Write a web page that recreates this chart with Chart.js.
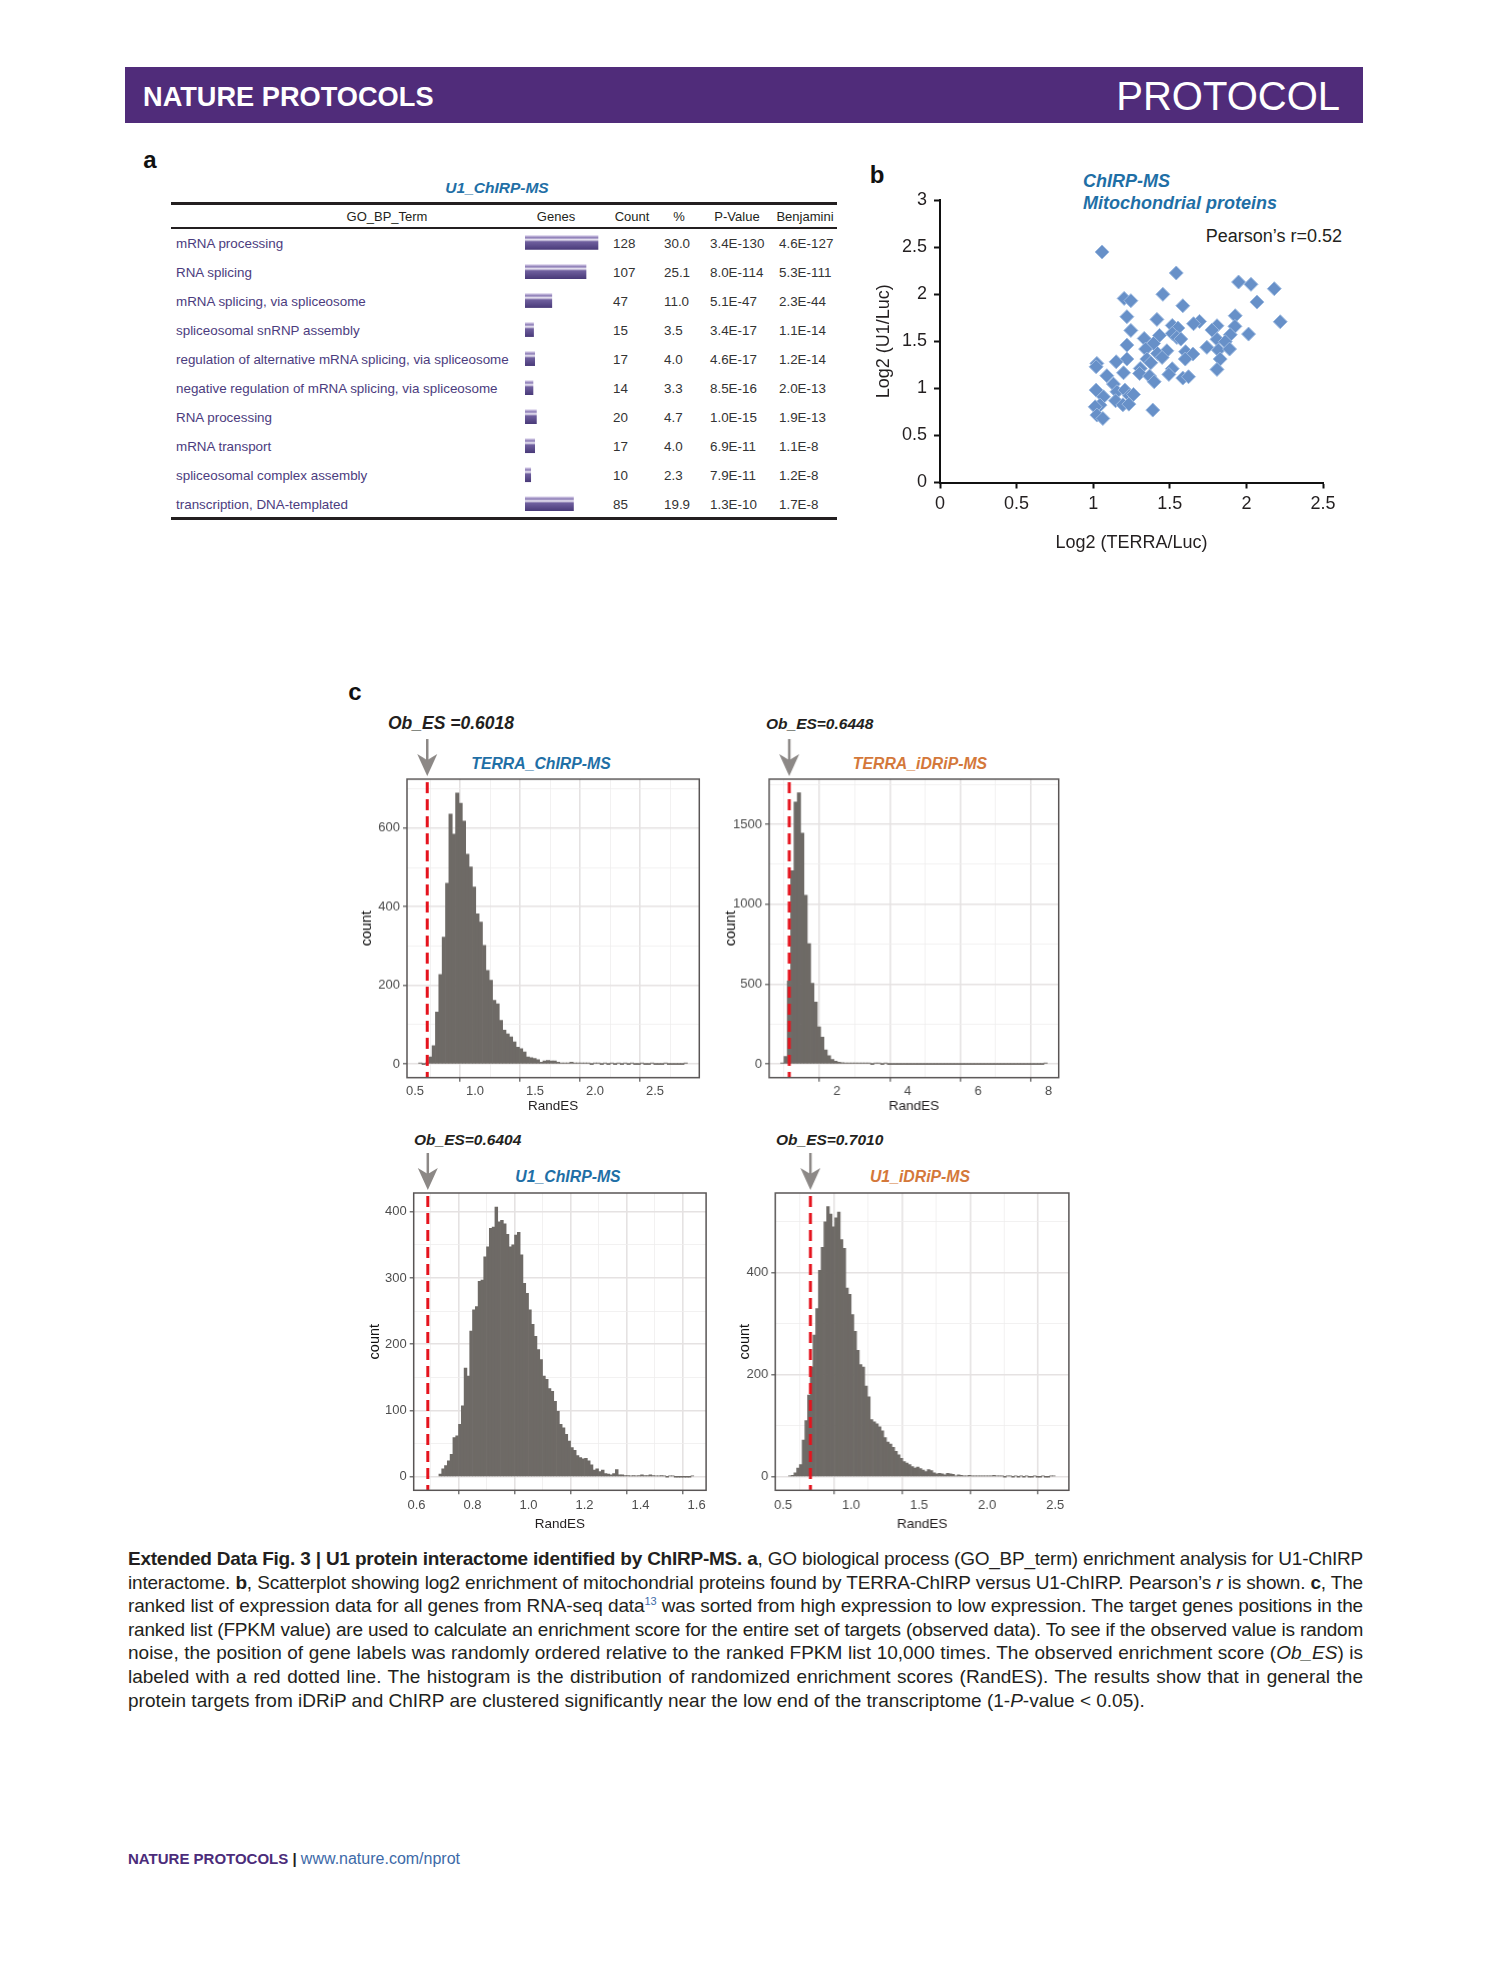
<!DOCTYPE html>
<html lang="en">
<head>
<meta charset="UTF-8" />
<title>Extended Data Fig. 3 | U1 protein interactome</title>
<script src="https://cdn.jsdelivr.net/npm/chart.js@4.4.1/dist/chart.umd.min.js"></script>
<style>
  html, body { margin: 0; padding: 0; background: #fff; }
  #page {
    position: relative;
    width: 1489px;
    height: 1978px;
    overflow: hidden;
    font-family: 'Liberation Sans', Arial, sans-serif;
    color: #231f20;
  }
  .abs { position: absolute; white-space: nowrap; }
  .cc { transform: translate(-50%, -50%); }
  .lc { transform: translateY(-50%); }
  .rc { transform: translate(-100%, -50%); }
  .box { position: absolute; }
  .rule { position: absolute; left: 171px; width: 666px; background: #231f20; }
  .panel-label { font-weight: bold; font-size: 24px; color: #111; }
  .blue-title { font-weight: bold; font-style: italic; font-size: 15.8px; color: #1f6fa6; }
  .orange-title { font-weight: bold; font-style: italic; font-size: 15.8px; color: #d4783a; }
  .obes { font-weight: bold; font-style: italic; font-size: 15.5px; color: #231f20; }
  .term { font-size: 13.4px; color: #4b3c7e; }
  .num { font-size: 13.4px; color: #333; }
  .hdr { font-size: 13px; color: #231f20; }
  #caption {
    position: absolute;
    left: 128px;
    top: 1547px;
    width: 1235px;
    font-size: 19px;
    line-height: 23.6px;
    color: #231f20;
  }
  #caption .j { text-align: justify; text-align-last: justify; white-space: nowrap; }
  #caption sup { font-size: 11px; line-height: 0; color: #3d6aa8; }
</style>
</head>
<body>
<div id="page">

  <!-- header bar -->
  <div class="box" style="left:125px;top:67px;width:1238px;height:56px;background:#502c7a"></div>
  <div class="abs lc" style="left:143px;top:97px;color:#fff;font-weight:bold;font-size:27.2px">NATURE PROTOCOLS</div>
  <div class="abs rc" style="left:1340px;top:96px;color:#fff;font-size:40px">PROTOCOL</div>

  <!-- panel a -->
  <div class="abs cc panel-label" style="left:150px;top:160px">a</div>
  <div class="abs cc blue-title" style="left:497px;top:188px;font-size:15.5px">U1_ChIRP-MS</div>
  <div class="rule" style="top:202px;height:2.5px"></div>
  <div class="rule" style="top:227px;height:2px"></div>
  <div class="rule" style="top:517px;height:2.5px"></div>
  <div id="tableText"></div>
  <div class="box" style="left:525px;top:228.2px;width:80px;height:290.3px"><canvas id="genesBar"></canvas></div>

  <!-- panel b -->
  <div class="abs cc panel-label" style="left:877px;top:175px">b</div>
  <div class="abs lc blue-title" style="left:1083px;top:181px;font-size:18px">ChIRP-MS</div>
  <div class="abs lc blue-title" style="left:1083px;top:203px;font-size:18px">Mitochondrial proteins</div>
  <div class="abs rc" style="left:1342px;top:236px;font-size:18px;color:#231f20">Pearson’s r=0.52</div>
  <div class="box" style="left:873px;top:190px;width:470px;height:364px"><canvas id="scatterB"></canvas></div>

  <!-- panel c -->
  <div class="abs cc panel-label" style="left:355px;top:692px">c</div>

  <div class="abs lc obes" style="left:388px;top:723px;font-size:17.5px">Ob_ES =0.6018</div>
  <div class="abs cc blue-title" style="left:541px;top:764px">TERRA_ChIRP-MS</div>
  <div class="abs lc obes" style="left:766px;top:724px">Ob_ES=0.6448</div>
  <div class="abs cc orange-title" style="left:920px;top:764px">TERRA_iDRiP-MS</div>
  <div class="abs lc obes" style="left:414px;top:1140px">Ob_ES=0.6404</div>
  <div class="abs cc blue-title" style="left:568px;top:1177px">U1_ChIRP-MS</div>
  <div class="abs lc obes" style="left:776px;top:1140px">Ob_ES=0.7010</div>
  <div class="abs cc orange-title" style="left:920px;top:1177px">U1_iDRiP-MS</div>

  <div class="box" id="boxH1"><canvas id="hist1"></canvas></div>
  <div class="box" id="boxH2"><canvas id="hist2"></canvas></div>
  <div class="box" id="boxH3"><canvas id="hist3"></canvas></div>
  <div class="box" id="boxH4"><canvas id="hist4"></canvas></div>

  <!-- caption -->
  <div id="caption">
    <div class="j"><b>Extended Data Fig. 3 | U1 protein interactome identified by ChIRP-MS. a</b>, GO biological process (GO_BP_term) enrichment analysis for U1-ChIRP</div>
    <div class="j">interactome. <b>b</b>, Scatterplot showing log2 enrichment of mitochondrial proteins found by TERRA-ChIRP versus U1-ChIRP. Pearson’s <i>r</i> is shown. <b>c</b>, The</div>
    <div class="j">ranked list of expression data for all genes from RNA-seq data<sup>13</sup> was sorted from high expression to low expression. The target genes positions in the</div>
    <div class="j">ranked list (FPKM value) are used to calculate an enrichment score for the entire set of targets (observed data). To see if the observed value is random</div>
    <div class="j">noise, the position of gene labels was randomly ordered relative to the ranked FPKM list 10,000 times. The observed enrichment score (<i>Ob_ES</i>) is</div>
    <div class="j">labeled with a red dotted line. The histogram is the distribution of randomized enrichment scores (RandES). The results show that in general the</div>
    <div>protein targets from iDRiP and ChIRP are clustered significantly near the low end of the transcriptome (1-<i>P</i>-value &lt; 0.05).</div>
  </div>

  <!-- footer -->
  <div class="abs lc" style="left:128px;top:1859px;font-size:15px">
    <span style="font-weight:bold;color:#4b2c7a">NATURE PROTOCOLS</span><span style="color:#231f20;font-weight:bold"> | </span><span style="color:#3d6aa8;font-size:16px">www.nature.com/nprot</span>
  </div>
</div>

<script>
  // ---- panel a: GO_BP_Term table ----
  const goTerms = ['mRNA processing', 'RNA splicing', 'mRNA splicing, via spliceosome', 'spliceosomal snRNP assembly',
    'regulation of alternative mRNA splicing, via spliceosome', 'negative regulation of mRNA splicing, via spliceosome',
    'RNA processing', 'mRNA transport', 'spliceosomal complex assembly', 'transcription, DNA-templated'];
  const goCounts = [128, 107, 47, 15, 17, 14, 20, 17, 10, 85];
  const goPercent = ['30.0', '25.1', '11.0', '3.5', '4.0', '3.3', '4.7', '4.0', '2.3', '19.9'];
  const goPValue = ['3.4E-130', '8.0E-114', '5.1E-47', '3.4E-17', '4.6E-17', '8.5E-16', '1.0E-15', '6.9E-11', '7.9E-11', '1.3E-10'];
  const goBenjamini = ['4.6E-127', '5.3E-111', '2.3E-44', '1.1E-14', '1.2E-14', '2.0E-13', '1.9E-13', '1.1E-8', '1.2E-8', '1.7E-8'];

  // ---- panel b: mitochondrial proteins ----
  const mitoTerra = [1.058, 1.542, 1.949, 2.030, 2.182, 1.455, 1.202, 1.246, 2.069, 1.585, 1.220, 1.927, 1.416, 1.694, 1.655, 2.221,
    1.246, 1.516, 1.553, 1.808, 1.775, 1.925, 1.895, 2.014, 1.516, 1.546, 1.572, 1.333, 1.433, 1.220, 1.394, 1.808, 1.862, 1.342,
    1.742, 1.603, 1.651, 1.817, 1.890, 1.481, 1.420, 1.450, 1.220, 1.601, 1.829, 1.350, 1.376, 1.150, 1.024, 1.019, 1.307, 1.516,
    1.198, 1.303, 1.494, 1.089, 1.368, 1.808, 1.585, 1.622, 1.398, 1.132, 1.019, 1.155, 1.207, 1.067, 1.237, 1.263, 1.146, 1.045,
    1.013, 1.194, 1.233, 1.024, 1.063, 1.389];
  const mitoU1 = [2.448, 2.225, 2.129, 2.104, 2.058, 1.998, 1.955, 1.931, 1.916, 1.877, 1.761, 1.771, 1.732, 1.711, 1.686, 1.707,
    1.615, 1.668, 1.640, 1.665, 1.619, 1.658, 1.569, 1.576, 1.583, 1.541, 1.523, 1.530, 1.562, 1.459, 1.477, 1.520, 1.495, 1.417,
    1.435, 1.389, 1.364, 1.406, 1.417, 1.399, 1.371, 1.328, 1.311, 1.311, 1.311, 1.311, 1.272, 1.282, 1.265, 1.229, 1.211, 1.208,
    1.165, 1.158, 1.148, 1.134, 1.130, 1.201, 1.109, 1.123, 1.070, 1.045, 0.981, 0.964, 0.981, 0.910, 0.921, 0.935, 0.868, 0.822,
    0.804, 0.825, 0.832, 0.716, 0.680, 0.769];

  // ---- panel c: RandES histograms (centre of first bin, bin width, counts) ----
  const terraChirpObES = 0.6018;
  const terraChirpStart = 0.544, terraChirpBin = 0.028;
  const terraChirpCounts = [1, 0, 1, 18, 47, 132, 228, 323, 460, 636, 585, 689, 663, 618, 534, 501, 450, 382, 361, 302,
    238, 213, 162, 153, 111, 86, 77, 69, 56, 43, 39, 31, 18, 16, 14, 11, 5, 8, 9, 8,
    8, 5, 3, 3, 2, 5, 3, 1, 2, 1, 1, 0, 1, 1, 0, 1, 0, 1, 0, 1,
    0, 1, 0, 1, 0, 0, 1, 0, 0, 1, 0, 0, 0, 1, 0, 0, 0, 0, 0, 1];

  const terraIdripObES = 0.6448;
  const terraIdripStart = 0.448, terraIdripBin = 0.0945;
  const terraIdripCounts = [1, 48, 520, 1210, 1640, 1698, 1445, 1056, 753, 505, 388, 232, 169, 88, 52, 28, 18, 12, 9, 6,
    4, 3, 2, 2, 1, 1, 1, 0, 1, 1, 0, 1, 0, 0, 0, 0, 0, 0, 0, 0,
    0, 0, 0, 0, 0, 0, 0, 0, 0, 0, 0, 0, 0, 0, 0, 0, 0, 0, 0, 0,
    0, 0, 0, 0, 0, 0, 0, 0, 0, 0, 0, 0, 0, 0, 0, 0, 0, 0, 0, 1];

  const u1ChirpObES = 0.6404;
  const u1ChirpStart = 0.685, u1ChirpBin = 0.01;
  const u1ChirpCounts = [4, 12, 17, 24, 34, 59, 62, 79, 107, 164, 152, 220, 252, 257, 295, 297, 332, 347, 375, 377,
    407, 385, 387, 382, 366, 347, 350, 365, 369, 335, 292, 277, 252, 230, 212, 192, 177, 152, 147, 133,
    129, 114, 99, 79, 74, 64, 54, 44, 40, 32, 29, 27, 28, 24, 18, 10, 12, 8, 10, 5,
    4, 3, 5, 11, 3, 3, 2, 2, 1, 2, 1, 2, 3, 2, 2, 3, 2, 1, 1, 2,
    1, 0, 1, 1, 0, 0, 0, 0, 0, 0, 1];

  const u1IdripObES = 0.7010;
  const u1IdripStart = 0.55, u1IdripBin = 0.02;
  const u1IdripCounts = [2, 3, 8, 17, 24, 72, 110, 160, 215, 278, 330, 405, 450, 500, 530, 515, 490, 508, 519, 465,
    448, 370, 358, 318, 285, 248, 220, 215, 178, 157, 112, 108, 104, 98, 90, 77, 68, 64, 58, 50,
    43, 36, 30, 27, 24, 20, 17, 19, 16, 13, 10, 14, 12, 8, 6, 7, 6, 4, 7, 6,
    5, 2, 4, 3, 2, 2, 3, 2, 1, 2, 1, 2, 1, 2, 1, 3, 1, 1, 1, 0,
    1, 1, 0, 1, 0, 1, 0, 1, 0, 0, 1, 0, 0, 1, 0, 0, 1, 1];

  // tick values (major = labelled, minor = grid only)
  const ticksHalf = [0.5, 1.0, 1.5, 2.0, 2.5];
  const ticksHalfMinor = [0.75, 1.25, 1.75, 2.25, 2.75];
  const ticksEven = [2, 4, 6, 8];
  const ticksOdd = [1, 3, 5, 7];
  const ticksFifth = [0.6, 0.8, 1.0, 1.2, 1.4, 1.6];
  const ticksFifthMinor = [0.7, 0.9, 1.1, 1.3, 1.5];

  Chart.defaults.font.family = "'Liberation Sans', Arial, sans-serif";
  Chart.defaults.animation = false;

  // caption: squeeze any justified line that is naturally wider than the column
  document.querySelectorAll('#caption .j').forEach(line => {
    line.style.textAlign = 'left';
    line.style.textAlignLast = 'left';
    const r = document.createRange();
    r.selectNodeContents(line);
    const w = r.getBoundingClientRect().width;
    line.style.textAlign = '';
    line.style.textAlignLast = '';
    if (w > 1232) line.style.letterSpacing = ((1232 - w) / line.textContent.length) + 'px';
  });

  // table text
  const tableBox = document.getElementById('tableText');
  function addText(txt, x, y, anchor, cls) {
    const d = document.createElement('div');
    d.className = 'abs ' + anchor + ' ' + cls;
    d.style.left = x + 'px';
    d.style.top = y + 'px';
    d.textContent = txt;
    tableBox.appendChild(d);
  }
  addText('GO_BP_Term', 387, 215.5, 'cc', 'hdr');
  addText('Genes', 556, 215.5, 'cc', 'hdr');
  addText('Count', 632, 215.5, 'cc', 'hdr');
  addText('%', 679, 215.5, 'cc', 'hdr');
  addText('P-Value', 737, 215.5, 'cc', 'hdr');
  addText('Benjamini', 805, 215.5, 'cc', 'hdr');
  goTerms.forEach((t, i) => {
    const y = 242.7 + i * 29.03;
    addText(t, 176, y, 'lc', 'term');
    addText(goCounts[i], 613, y, 'lc', 'num');
    addText(goPercent[i], 664, y, 'lc', 'num');
    addText(goPValue[i], 710, y, 'lc', 'num');
    addText(goBenjamini[i], 779, y, 'lc', 'num');
  });

  // gene count bars
  function geneFill(ctx) {
    const chart = ctx.chart;
    const ys = chart.scales.y;
    if (!ys || ctx.dataIndex === undefined) return '#6a5a98';
    const c = ys.getPixelForValue(ctx.dataIndex);
    if (!isFinite(c)) return '#6a5a98';
    const g = chart.ctx.createLinearGradient(0, c - 7, 0, c + 7);
    g.addColorStop(0, '#d6cde8');
    g.addColorStop(0.16, '#8b7bb5');
    g.addColorStop(0.3, '#eeeaf5');
    g.addColorStop(0.45, '#6f5f9e');
    g.addColorStop(1, '#4a3b7a');
    return g;
  }
  new Chart(document.getElementById('genesBar'), {
    type: 'bar',
    data: {
      labels: goTerms,
      datasets: [{ data: goCounts, backgroundColor: geneFill, borderWidth: 0, barThickness: 14 }]
    },
    options: {
      indexAxis: 'y',
      responsive: true,
      maintainAspectRatio: false,
      layout: { padding: 0 },
      plugins: { legend: { display: false }, tooltip: { enabled: false } },
      scales: {
        x: { display: false, min: 0, max: 140.3 },
        y: { display: false }
      }
    }
  });

  // scatter (panel b)
  new Chart(document.getElementById('scatterB'), {
    type: 'scatter',
    data: {
      datasets: [{
        data: mitoTerra.map((x, i) => ({ x: x, y: mitoU1[i] })),
        pointStyle: 'rectRot',
        radius: 7,
        backgroundColor: '#6790c8',
        borderColor: '#9cb9e0',
        borderWidth: 1
      }]
    },
    options: {
      responsive: true,
      maintainAspectRatio: false,
      layout: { padding: { top: 10, right: 20, left: 0, bottom: 0 } },
      plugins: { legend: { display: false }, tooltip: { enabled: false } },
      scales: {
        x: {
          type: 'linear', min: 0, max: 2.5,
          ticks: { stepSize: 0.5, padding: 5, color: '#231f20', font: { size: 18 }, callback: v => String(v) },
          grid: { drawOnChartArea: false, tickLength: 6, tickColor: '#111', tickWidth: 2 },
          border: { color: '#111', width: 2 },
          title: { display: true, text: 'Log2 (TERRA/Luc)', color: '#231f20', font: { size: 18 }, padding: 0 },
          afterFit: s => { s.height = 71.5; s.paddingLeft = 0; s.paddingRight = 0; }
        },
        y: {
          min: 0, max: 3,
          ticks: { stepSize: 0.5, padding: 7, color: '#231f20', font: { size: 18 }, callback: v => String(v) },
          grid: { drawOnChartArea: false, tickLength: 6, tickColor: '#111', tickWidth: 2 },
          border: { color: '#111', width: 2 },
          title: { display: true, text: 'Log2 (U1/Luc)', color: '#231f20', font: { size: 18 }, padding: 0 },
          afterFit: s => { s.width = 67; s.paddingTop = 0; s.paddingBottom = 0; }
        }
      }
    }
  });

  // Ob_ES red dashed line, arrow and panel border
  const obPlugin = (value) => ({
    id: 'obLine',
    afterDatasetsDraw(chart) {
      const { ctx, chartArea: a, scales: { x } } = chart;
      const px = x.getPixelForValue(value);
      ctx.save();
      ctx.strokeStyle = '#e5131d';
      ctx.lineWidth = 3;
      ctx.setLineDash([11, 6]);
      ctx.beginPath();
      ctx.moveTo(px, a.top + 3);
      ctx.lineTo(px, a.bottom);
      ctx.stroke();
      ctx.setLineDash([]);
      ctx.strokeStyle = '#595555';
      ctx.lineWidth = 1.5;
      ctx.strokeRect(a.left, a.top, a.right - a.left, a.bottom - a.top);
      ctx.strokeStyle = '#8c8886';
      ctx.fillStyle = '#8c8886';
      ctx.lineWidth = 2.5;
      ctx.beginPath();
      ctx.moveTo(px, a.top - 40);
      ctx.lineTo(px, a.top - 18);
      ctx.stroke();
      ctx.beginPath();
      ctx.moveTo(px - 10, a.top - 25);
      ctx.lineTo(px, a.top - 3);
      ctx.lineTo(px + 10, a.top - 25);
      ctx.lineTo(px, a.top - 19);
      ctx.closePath();
      ctx.fill();
      ctx.restore();
    }
  });

  function makeHist(o) {
    const box = document.getElementById(o.box);
    const padTop = 45, padRight = 14;
    box.style.left = (o.L - o.yAxisW) + 'px';
    box.style.top = (o.T - padTop) + 'px';
    box.style.width = (o.yAxisW + (o.R - o.L) + padRight) + 'px';
    box.style.height = (padTop + (o.B - o.T) + o.xAxisH) + 'px';

    const data = o.counts.map((c, i) => ({ x: +(o.start + i * o.bin).toFixed(4), y: c }));
    const isMajor = (list, v) => list.some(m => Math.abs(m - v) < 1e-9);
    const gridOpts = (majors) => ({
      color: c => isMajor(majors, c.tick && c.tick.value) ? '#e5e2e2' : '#efeded',
      lineWidth: c => isMajor(majors, c.tick && c.tick.value) ? 1.6 : 0.8,
      tickColor: c => isMajor(majors, c.tick && c.tick.value) ? '#555' : 'rgba(0,0,0,0)',
      tickLength: 4,
      tickWidth: 1.2
    });

    new Chart(document.getElementById(o.id), {
      type: 'bar',
      data: {
        datasets: [{
          data: data,
          backgroundColor: '#6e6a66',
          borderWidth: 0,
          barPercentage: 1,
          categoryPercentage: 1,
          minBarLength: 1,
          grouped: false
        }]
      },
      options: {
        responsive: true,
        maintainAspectRatio: false,
        layout: { padding: { top: padTop, right: padRight, left: 0, bottom: 0 } },
        plugins: { legend: { display: false }, tooltip: { enabled: false } },
        scales: {
          x: {
            type: 'linear', min: o.xMin, max: o.xMax, offset: false,
            afterBuildTicks: s => { s.ticks = o.xMajor.concat(o.xMinor).sort((a, b) => a - b).map(v => ({ value: v })); },
            afterFit: s => { s.height = o.xAxisH; s.paddingLeft = 0; s.paddingRight = 0; },
            grid: gridOpts(o.xMajor),
            border: { display: false },
            ticks: {
              autoSkip: false, maxRotation: 0, padding: o.xPad, color: '#4d4d4d', font: { size: 13 },
              callback: v => isMajor(o.xMajor, v) ? o.xFmt(v) : ''
            },
            title: { display: true, text: 'RandES', color: '#231f20', font: { size: 13.5 }, padding: 0 }
          },
          y: {
            min: o.yMin, max: o.yMax,
            afterBuildTicks: s => { s.ticks = o.yMajor.concat(o.yMinor).sort((a, b) => a - b).map(v => ({ value: v })); },
            afterFit: s => { s.width = o.yAxisW; s.paddingTop = 0; s.paddingBottom = 0; },
            grid: gridOpts(o.yMajor),
            border: { display: false },
            ticks: {
              autoSkip: false, padding: 3, color: '#4d4d4d', font: { size: 13 },
              callback: v => isMajor(o.yMajor, v) ? String(v) : ''
            },
            title: { display: true, text: 'count', color: '#111', font: { size: 14.5 }, padding: 0 }
          }
        }
      },
      plugins: [obPlugin(o.obES)]
    });
  }

  const oneDecimal = v => v.toFixed(1);
  const integer = v => String(v);

  makeHist({
    id: 'hist1', box: 'boxH1', L: 406.7, T: 779, R: 699, B: 1076.7, yAxisW: 49, xAxisH: 37, xPad: 2,
    start: terraChirpStart, bin: terraChirpBin, counts: terraChirpCounts, obES: terraChirpObES,
    xMin: 0.433, xMax: 2.869, xMajor: ticksHalf, xMinor: ticksHalfMinor, xFmt: oneDecimal,
    yMin: -34.5, yMax: 724.5, yMajor: [0, 200, 400, 600], yMinor: [100, 300, 500, 700]
  });
  makeHist({
    id: 'hist2', box: 'boxH2', L: 769, T: 779, R: 1057.7, B: 1076.7, yAxisW: 47, xAxisH: 37, xPad: 2,
    start: terraIdripStart, bin: terraIdripBin, counts: terraIdripCounts, obES: terraIdripObES,
    xMin: 0.075, xMax: 8.284, xMajor: ticksEven, xMinor: ticksOdd, xFmt: integer,
    yMin: -85, yMax: 1783, yMajor: [0, 500, 1000, 1500], yMinor: [250, 750, 1250, 1750]
  });
  makeHist({
    id: 'hist3', box: 'boxH3', L: 413.3, T: 1192.7, R: 705.7, B: 1490, yAxisW: 47.7, xAxisH: 42, xPad: 3,
    start: u1ChirpStart, bin: u1ChirpBin, counts: u1ChirpCounts, obES: u1ChirpObES,
    xMin: 0.590, xMax: 1.634, xMajor: ticksFifth, xMinor: ticksFifthMinor, xFmt: oneDecimal,
    yMin: -20.4, yMax: 428.4, yMajor: [0, 100, 200, 300, 400], yMinor: [50, 150, 250, 350]
  });
  makeHist({
    id: 'hist4', box: 'boxH4', L: 775, T: 1192.7, R: 1067.7, B: 1490, yAxisW: 39.2, xAxisH: 42, xPad: 3,
    start: u1IdripStart, bin: u1IdripBin, counts: u1IdripCounts, obES: u1IdripObES,
    xMin: 0.443, xMax: 2.601, xMajor: ticksHalf, xMinor: ticksHalfMinor.slice(0, 4), xFmt: oneDecimal,
    yMin: -26.5, yMax: 556.5, yMajor: [0, 200, 400], yMinor: [100, 300, 500]
  });
</script>
</body>
</html>
